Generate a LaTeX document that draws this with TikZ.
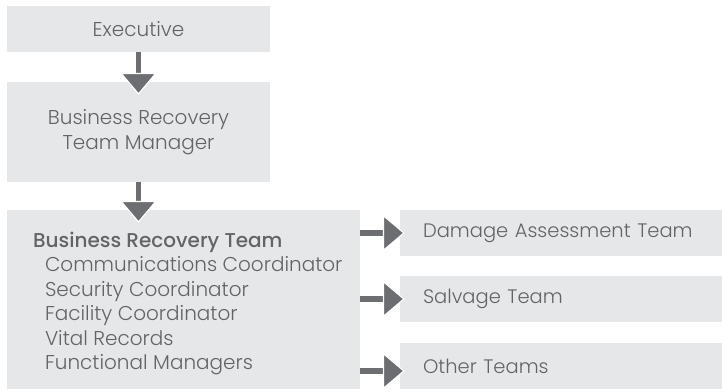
\documentclass[tikz,border=0pt]{standalone}
\usepackage{fontspec}
\setmainfont{Poppins Light}[BoldFont={Poppins Medium}]
\usetikzlibrary{arrows.meta}

\definecolor{boxgray}{HTML}{E6E7E8}
\definecolor{arrowgray}{HTML}{6D6E71}
\definecolor{textgray}{HTML}{636466}

\tikzset{
  box/.style={fill=boxgray,text=textgray,inner sep=0pt,
    font=\fontsize{20}{25}\selectfont},
  teambox/.style={box,minimum width=322pt,minimum height=46pt,
    text width=276pt,align=left,font=\fontsize{19.5}{24}\selectfont},
  boxtext/.style={text=textgray,inner sep=0pt,align=left,
    font=\fontsize{20}{24.5}\selectfont},
  link/.style={arrowgray,line width=5.5pt,
    -{Triangle[length=22pt,width=37pt,line width=1.2pt,color=white,fill=arrowgray]}}
}

\begin{document}
\begin{tikzpicture}[x=1pt,y=-1pt]
          \useasboundingbox (0,0) rectangle (722,391);
          \node[box,minimum width=263pt,minimum height=46pt] (exec) at (138.5,29) {Executive};
          \node[box,minimum width=263pt,minimum height=100pt,align=center] (mgr) at (138.5,132)
            {Business Recovery\\Team Manager};
          \node[box,minimum width=353pt,minimum height=179pt] (team) at (183.5,299.5) {};
          \node[boxtext,anchor=west] (teamlist) at ([xshift=26pt,yshift=-4pt]team.west)
            {\textbf{Business Recovery Team}\\
             \hspace*{12pt}Communications Coordinator\\
             \hspace*{12pt}Security Coordinator\\
             \hspace*{12pt}Facility Coordinator\\
             \hspace*{12pt}Vital Records\\
             \hspace*{12pt}Functional Managers};
          \node[teambox] (dmg) at (561,233) {Damage Assessment Team};
          \node[teambox] (salv) at (561,299) {Salvage Team};
          \node[teambox,text depth=-2pt] (other) at (561,366) {Other Teams};
          \draw[link] (exec.south) -- ([yshift=-13pt]mgr.north);
          \draw[link] (mgr.south) -- ([yshift=-13pt]team.north -| mgr.south);
          \draw[link] (team.east |- dmg.west) -- ([xshift=5pt]dmg.west);
          \draw[link] (team.east |- salv.west) -- ([xshift=5pt]salv.west);
          \draw[link] ([yshift=-5pt]team.east |- other.west) -- ([xshift=5pt,yshift=-5pt]other.west);
        \end{tikzpicture}
\end{document}
